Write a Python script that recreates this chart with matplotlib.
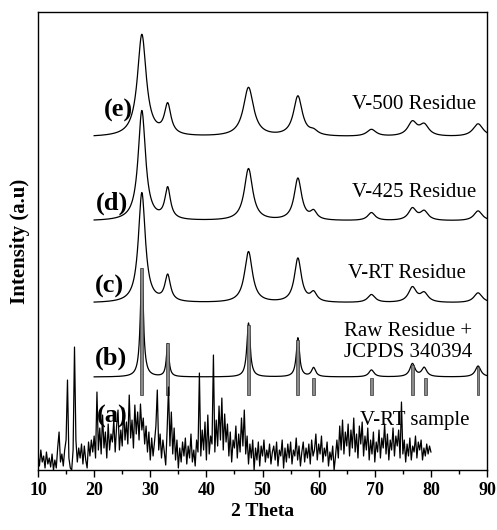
import numpy as np
import matplotlib
matplotlib.use("Agg")
import matplotlib.pyplot as plt
from matplotlib.ticker import MultipleLocator

plt.rcParams['font.family'] = ['Liberation Serif', 'DejaVu Serif']

# peak positions (2 theta) shared by the residue patterns
peak_pos = [28.5, 33.1, 47.5, 56.3, 59.1, 69.4, 76.7, 78.8, 88.4]

# residue patterns: baseline offset, peak heights above baseline, peak FWHM
base_e = 333
peaks_e = [102, 30, 49, 40, 4, 7, 14, 11, 13]
fwhm_e = [1.9, 1.4, 2.2, 1.9, 1.8, 2.0, 2.0, 2.0, 2.2]

base_d = 249
peaks_d = [110, 31, 52, 42, 8, 8, 12, 9, 10]
fwhm_d = [1.6, 1.2, 1.8, 1.6, 1.4, 1.6, 1.7, 1.7, 1.8]

base_c = 167
peaks_c = [110, 26, 51, 44, 9, 8, 15, 9, 10]
fwhm_c = [1.5, 1.2, 1.7, 1.5, 1.4, 1.6, 1.7, 1.7, 1.8]

base_b = 93
peaks_b = [108, 33, 54, 39, 9, 7, 13, 9, 11]
fwhm_b = [0.65, 0.55, 0.7, 0.7, 0.9, 1.1, 1.1, 1.1, 1.2]

# JCPDS 340394 reference lines
jcpds_pos = [28.5, 33.1, 47.5, 56.3, 59.1, 69.4, 76.7, 79.0, 88.4]
jcpds_top = [202, 127, 145, 130, 92, 92, 105, 92, 103]
jcpds_bottom = 75

# (a) V-RT sample, raw noisy scan, 10..80 step 0.25
scan_a = [
    15, 4, 20, 8, 14, 2, 18, 6, 12, 3, 16, 0, 10, 2, 22, 38,
    8, 16, 4, 20, 30, 90, 12, 2, 0, 20, 123, 30, 8, 22, 12, 26,
    6, 24, 10, 2, 28, 14, 30, 18, 34, 12, 78, 20, 42, 16, 55, 22,
    38, 12, 46, 20, 36, 28, 50, 18, 44, 60, 20, 40, 24, 62, 30, 48,
    26, 75, 32, 50, 22, 65, 36, 58, 30, 66, 40, 52, 26, 44, 18, 38,
    10, 32, 14, 28, 44, 80, 20, 36, 12, 30, 18, 5, 40, 83, 24, 58,
    16, 42, 10, 30, 2, 22, 8, 28, 14, 32, 6, 24, 12, 36, 8, 20,
    4, 30, 18, 97, 14, 40, 20, 48, 10, 55, 16, 34, 26, 115, 18, 50,
    24, 64, 30, 72, 20, 56, 28, 46, 14, 38, 8, 30, 22, 44, 12, 36,
    18, 52, 24, 60, 16, 34, 6, 26, 12, 30, 0, 22, 10, 28, 4, 24,
    14, 30, 8, 20, 12, 26, 6, 18, 24, 10, 28, 4, 20, 14, 30, 2,
    22, 8, 26, 12, 28, 6, 20, 14, 32, 10, 24, 4, 18, 28, 8, 22,
    12, 26, 6, 30, 14, 20, 36, 10, 26, 16, 34, 8, 22, 14, 28, 4,
    18, 10, 24, 0, 14, 30, 12, 44, 20, 50, 16, 38, 24, 46, 14, 40,
    22, 52, 18, 36, 12, 44, 26, 48, 14, 34, 20, 42, 10, 30, 16, 38,
    8, 28, 18, 40, 12, 32, 22, 46, 16, 36, 10, 30, 20, 42, 14, 34,
    24, 40, 12, 68, 16, 30, 8, 26, 14, 32, 10, 24, 18, 34, 12, 28,
    20, 30, 10, 22, 14, 26, 16, 24, 18,
]
theta_a = np.arange(len(scan_a)) * 0.25 + 10

theta = np.arange(20, 90.001, 0.05)


def pattern(base, heights, widths):
    y = np.full_like(theta, float(base))
    for p, h, w in zip(peak_pos, heights, widths):
        g = w / 2
        y += h * g * g / ((theta - p) ** 2 + g * g)
    return y


fig = plt.figure(figsize=(4.97, 5.30), dpi=100)
ax = fig.add_axes([0.0765, 0.1132, 0.9035, 0.8638])

lw = 0.9
ax.plot(theta, pattern(base_e, peaks_e, fwhm_e), color="black", lw=lw)
ax.plot(theta, pattern(base_d, peaks_d, fwhm_d), color="black", lw=lw)
ax.plot(theta, pattern(base_c, peaks_c, fwhm_c), color="black", lw=lw)
ax.plot(theta, pattern(base_b, peaks_b, fwhm_b), color="black", lw=lw)
ax.bar(jcpds_pos, [t - jcpds_bottom for t in jcpds_top], bottom=jcpds_bottom,
       width=0.5, color="#8a8a8a", edgecolor="#333333", linewidth=0.5, zorder=3)
ax.plot(theta_a, scan_a, color="black", lw=lw, zorder=4)

bold = dict(fontsize=19, fontweight="bold", ha="center", va="center")
ax.text(24.3, 360, "(e)", **bold)
ax.text(23.2, 267, "(d)", **bold)
ax.text(22.8, 184, "(c)", **bold)
ax.text(23.0, 112, "(b)", **bold)
ax.text(23.2, 54, "(a)", **bold)

reg = dict(fontsize=15, ha="center", va="center")
ax.text(77.0, 366, "V-500 Residue", **reg)
ax.text(77.0, 278, "V-425 Residue", **reg)
ax.text(75.8, 197, "V-RT Residue", **reg)
ax.text(76.0, 128, "Raw Residue +\nJCPDS 340394", linespacing=1.1, **reg)
ax.text(77.2, 50, "V-RT sample", **reg)

ax.set_xlim(10, 90)
ax.set_ylim(0, 458)
ax.set_yticks([])
ax.xaxis.set_major_locator(MultipleLocator(10))
ax.xaxis.set_minor_locator(MultipleLocator(5))
ax.tick_params(axis="x", which="major", direction="out", length=5, width=1,
               labelsize=13)
ax.tick_params(axis="x", which="minor", direction="out", length=3, width=1)
for lab in ax.get_xticklabels():
    lab.set_fontweight("bold")
for s in ax.spines.values():
    s.set_linewidth(1)

ax.set_xlabel("2 Theta", fontsize=14, fontweight="bold", labelpad=3)
ax.set_ylabel("Intensity (a.u)", fontsize=15, fontweight="bold", labelpad=6)

fig.savefig("out.png", dpi=100)
